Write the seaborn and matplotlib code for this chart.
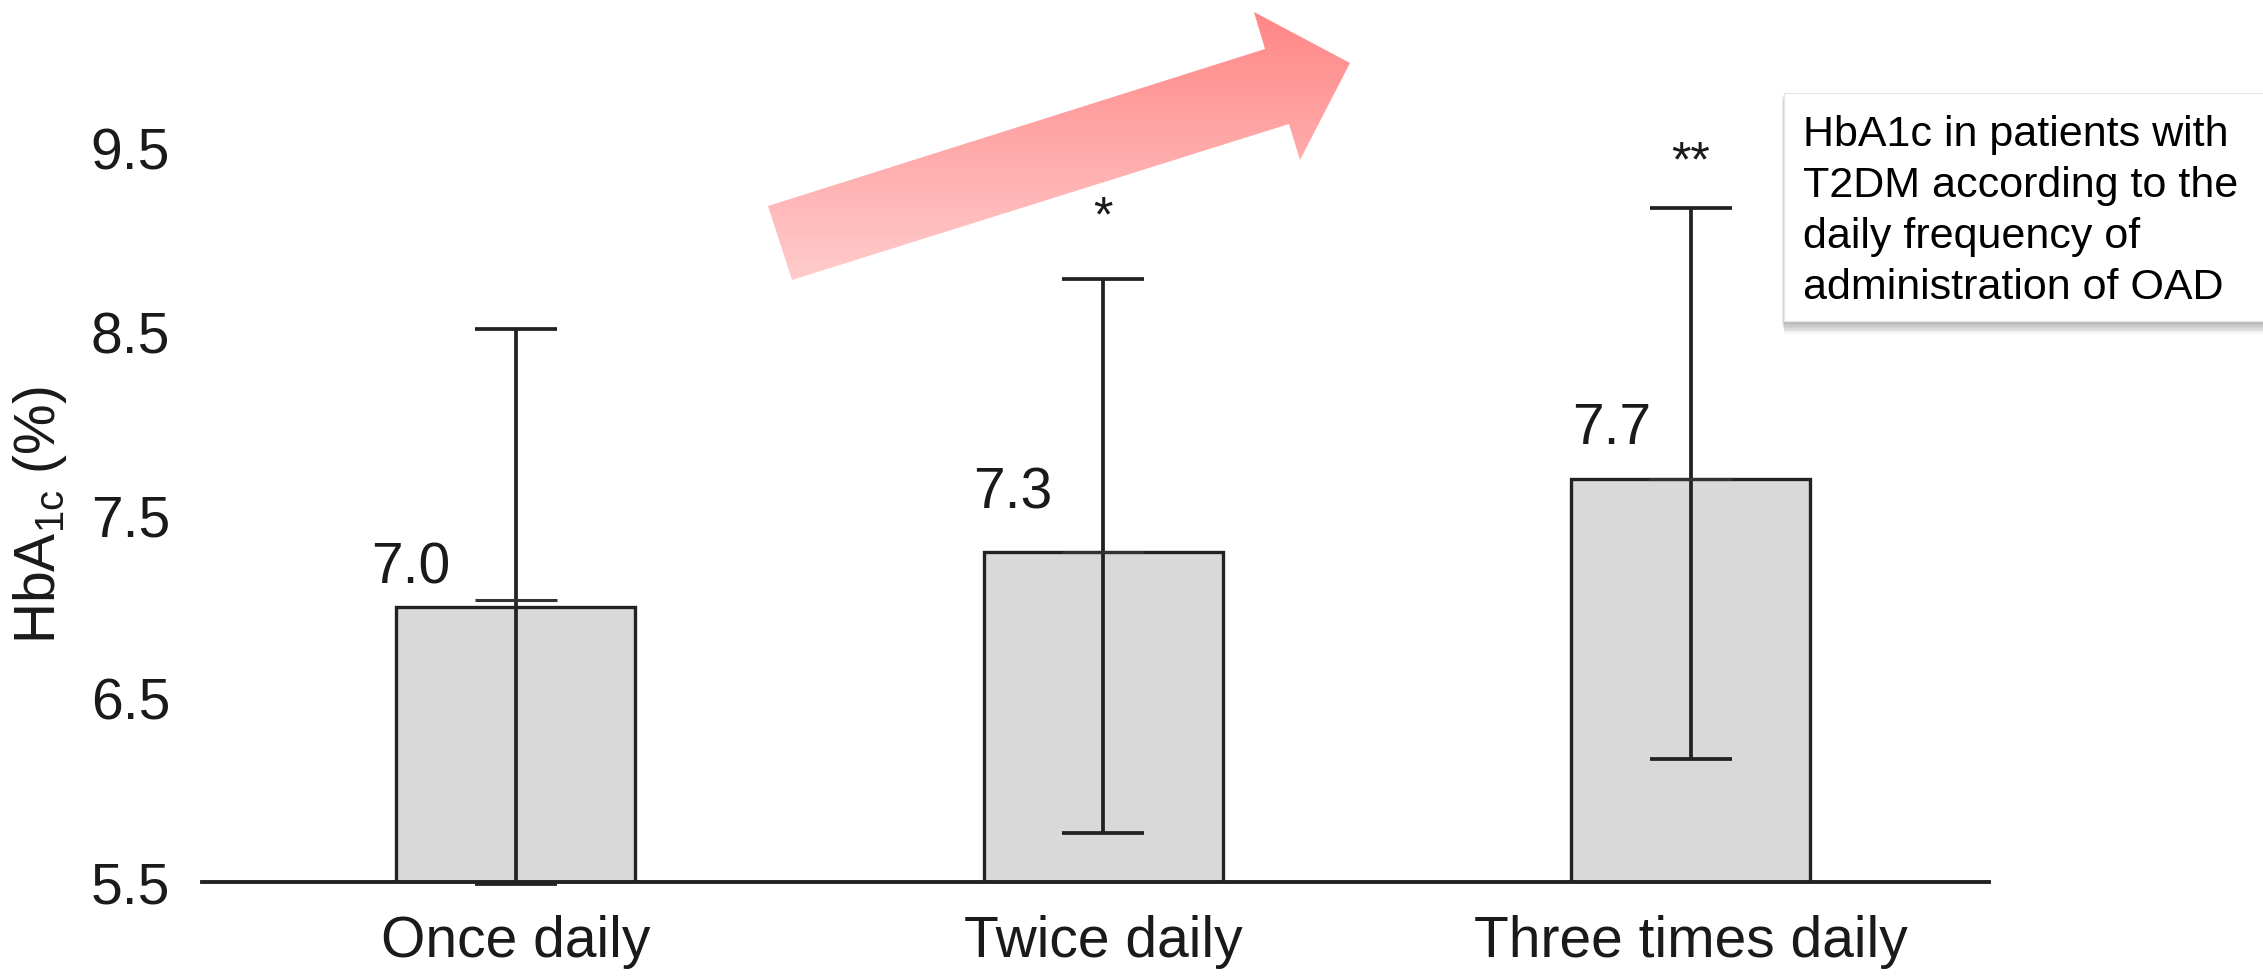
import numpy as np
import seaborn as sns
import matplotlib.pyplot as plt
from matplotlib.patches import Polygon, Rectangle
from matplotlib.colors import LinearSegmentedColormap

sns.set_style("white")
plt.rcParams['font.family'] = ['Liberation Sans', 'DejaVu Sans']
plt.rcParams['mathtext.default'] = 'regular'

# data
groups = ["Once daily", "Twice daily", "Three times daily"]
means = [7.0, 7.3, 7.7]
err_low = [5.49, 5.77, 6.17]
err_high = [8.52, 8.79, 9.18]
mid_caps = [7.04, 7.3, 7.7]
stars = ["", "*", "**"]
yticks = [5.5, 6.5, 7.5, 8.5, 9.5]
note = ["HbA1c in patients with", "T2DM according to the",
        "daily frequency of", "administration of OAD"]

# label placement (relative to each bar)
lab_dx = [-0.178, -0.154, -0.135]
lab_dy = [0.13, 0.24, 0.19]
star_dy = [0.0, 0.26, 0.17]

W, H = 2263, 976
fig = plt.figure(figsize=(W / 100, H / 100), dpi=100)
ax = fig.add_axes([202 / W, 1 - 882 / H, 1787 / W, 733 / H])

dark = "#222222"
sns.barplot(x=groups, y=means, color="#D9D9D9", saturation=1, edgecolor=dark,
            linewidth=2.4, width=0.407, errorbar=None, ax=ax, zorder=2)

xs = np.arange(len(groups))
m = np.array(means)
yerr = [m - np.array(err_low), np.array(err_high) - m]
eb = ax.errorbar(xs, m, yerr=yerr, fmt='none', ecolor=dark, elinewidth=2.7,
                 capsize=29.5, capthick=2.7, zorder=3)
for art in eb.lines[1]:
    art.set_clip_on(False)
for coll in eb.lines[2]:
    coll.set_clip_on(False)
ax.hlines(mid_caps, xs - 0.07, xs + 0.07, color="#333333", lw=2.2, zorder=3)

# value labels and significance marks
for i, v in enumerate(means):
    ax.text(i + lab_dx[i], v + lab_dy[i], f"{v:.1f}", ha='center',
            va='baseline', fontsize=41, color="#1a1a1a")
    if stars[i]:
        ax.text(i, err_high[i] + star_dy[i], stars[i], ha='center',
                va='baseline', fontsize=36, color="#1a1a1a", clip_on=False)

ax.set_ylim(5.5, 9.5)
ax.set_xlim(-0.534, 2.508)
ax.set_yticks(yticks)
ax.set_yticklabels([f"{t:.1f}" for t in yticks])
ax.tick_params(axis='y', length=0, pad=23, labelsize=41, labelcolor="#1a1a1a")
ax.tick_params(axis='x', length=0, pad=24, labelsize=41, labelcolor="#1a1a1a")
ax.set_ylabel("HbA$_{1c}$ (%)", fontsize=41, color="#1a1a1a")
ax.yaxis.set_label_coords(-0.0745, 0.5)
for s in ["left", "top", "right"]:
    ax.spines[s].set_visible(False)
ax.spines["bottom"].set_linewidth(2.8)
ax.spines["bottom"].set_color(dark)
ax.set_facecolor("none")

# overlay in pixel coordinates for the arrow and the note box
ov = fig.add_axes([0, 0, 1, 1], zorder=5)
ov.set_axis_off()
ov.patch.set_alpha(0)

arrow_pts = [(792, 280), (768, 206), (1265, 49), (1254, 12),
             (1350, 63), (1300, 160), (1289, 124)]
poly = Polygon(arrow_pts, closed=True, facecolor='none', edgecolor='none')
ov.add_patch(poly)
cmap = LinearSegmentedColormap.from_list("pk", ["#FF8585", "#FFCDCD"])
grad = np.linspace(0, 1, 256).reshape(-1, 1)
im = ov.imshow(grad, cmap=cmap, extent=(760, 1360, 285, 8), aspect='auto',
               origin='upper', interpolation='bilinear')
im.set_clip_path(poly)

# note box with soft shadow
for k in range(8):
    ov.add_patch(Rectangle((1784 - 2 + k * 0.3, 95 + k * 1.4), 520, 229,
                           facecolor='black', edgecolor='none', alpha=0.035))
ov.add_patch(Rectangle((1784, 93), 520, 228, facecolor='white',
                       edgecolor='#e6e6e6', linewidth=0.8))
for k, line in enumerate(note):
    ov.text(1803, 146 + k * 51, line, fontsize=31, va='baseline',
            ha='left', color='black')

ov.set_xlim(0, W)
ov.set_ylim(H, 0)

fig.savefig("out.png", dpi=100)
